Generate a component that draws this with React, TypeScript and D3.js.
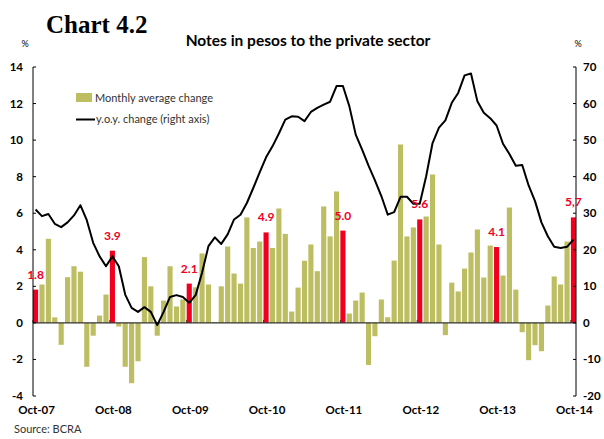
import React from "react";
import * as d3 from "d3";

const monthlyChange: number[] = [
  1.82, 2.1, 4.6, 0.3, -1.2, 2.5, 3.1, 2.8, -2.4, -0.7, 0.4, 1.55,
  3.95, -0.2, -2.4, -3.3, -2.1, 3.6, 2.0, -0.7, 1.22, 3.1, 0.9, 1.28,
  2.15, 1.95, 3.8, 2.1, 0.05, 2.0, 4.18, 2.7, 2.15, 5.77, 4.1, 4.45,
  4.95, 4.1, 6.26, 4.87, 0.62, 1.93, 3.4, 4.29, 2.83, 6.37, 4.73, 7.19,
  5.05, 0.51, 1.22, 1.66, -2.3, -0.73, 1.28, 0.31, 3.41, 9.76, 4.73, 5.22,
  5.66, 5.82, 8.12, 4.29, -0.67, 2.2, 1.72, 2.97, 3.85, 5.11, 2.48, 4.23,
  4.15, 2.59, 6.31, 1.82, -0.51, -2.04, -1.22, -1.55, 0.95, 2.54, 2.1, 4.45,
  5.77,
];

const yoyChange: number[] = [
  31, 29.2, 29.8, 27.1, 26.2, 27.5, 29.4, 32.2, 28.1, 21.9, 18.2, 15.5,
  18.2, 15.5, 7.75, 4.1, 3.0, 4.3, 3.0, -0.6, 3.0, 7.1, 7.6, 7.1,
  5.5, 7.6, 13.7, 21, 23.4, 21.6, 24.2, 28.3, 29.6, 32.8, 36.9, 41.2,
  45.3, 48.3, 51.8, 55.6, 56.5, 56.4, 55.2, 57.7, 58.8, 59.7, 60.5, 64.8,
  64.8, 59.3, 51.5, 47.4, 43, 39, 34.7, 29.6, 30.3, 34.5, 34.5, 32.6,
  32.6, 40.1, 49.2, 53.4, 55.4, 60.2, 62.9, 67.7, 68.2, 60.6, 57.5, 56,
  54, 49, 46.2, 43, 43.2, 37.6, 33.3, 27.5, 23.7, 20.8, 20.5, 20.8,
  22.8,
];

const octoberLabels: string[] = ["1.8", "3.9", "2.1", "4.9", "5.0", "5.6", "4.1", "5,7"];
const xTickLabels: string[] = ["Oct-07", "Oct-08", "Oct-09", "Oct-10", "Oct-11", "Oct-12", "Oct-13", "Oct-14"];
const leftTicks: number[] = [-4, -2, 0, 2, 4, 6, 8, 10, 12, 14];
const rightTicks: number[] = [-20, -10, 0, 10, 20, 30, 40, 50, 60, 70];

const months: Date[] = d3.timeMonth.range(new Date(2007, 9, 1), new Date(2014, 10, 1));
const fmt = d3.timeFormat("%b-%y");

const OLIVE = "#bdbd62";
const RED = "#f0001e";

export default function App() {
  const W = 604;
  const H = 439;
  const left = 33;
  const right = 576;
  const top = 67;
  const bottom = 396;

  const x = d3
    .scaleBand<string>()
    .domain(months.map((m) => fmt(m)))
    .range([left, right])
    .paddingInner(0.2)
    .paddingOuter(0);
  const yL = d3.scaleLinear().domain([-4, 14]).range([bottom, top]);
  const yR = d3.scaleLinear().domain([-20, 70]).range([bottom, top]);
  const bw = x.bandwidth();

  const line = d3
    .line<number>()
    .x((_, i) => (x(fmt(months[i])) as number) + bw / 2)
    .y((d) => yR(d));

  const isOct = (i: number) => months[i].getMonth() === 9;
  const octIdx = months.map((_, i) => i).filter(isOct);

  const tickFont = "Lato, 'DejaVu Sans', sans-serif";

  return (
    <svg
      width={W}
      height={H}
      style={{ position: "absolute", left: 0, top: 0, background: "#fff" }}
      fontFamily={tickFont}
    >
      <text x={46} y={33} fontFamily="'Liberation Serif', serif" fontWeight="bold" fontSize={25} fill="#000">
        Chart 4.2
      </text>
      <text x={308} y={46} textAnchor="middle" fontWeight="bold" fontSize={15.5} fill="#000">
        Notes in pesos to the private sector
      </text>
      <text x={25} y={47} textAnchor="middle" fontSize={9} fill="#000">%</text>
      <text x={578} y={47} textAnchor="middle" fontSize={9} fill="#000">%</text>

      {/* bars */}
      {monthlyChange.map((v, i) => {
        const xx = x(fmt(months[i])) as number;
        const y0 = yL(0);
        const y1 = yL(v);
        return (
          <rect
            key={i}
            x={xx}
            y={Math.min(y0, y1)}
            width={bw}
            height={Math.abs(y1 - y0)}
            fill={isOct(i) ? RED : OLIVE}
          />
        );
      })}

      {/* zero line */}
      <line x1={left} x2={right} y1={yL(0)} y2={yL(0)} stroke="#333" strokeWidth={1.3} />
      {octIdx.map((i) => {
        const xx = x(fmt(months[i])) as number;
        return <line key={i} x1={xx} x2={xx} y1={yL(0)} y2={yL(0) - 3} stroke="#333" strokeWidth={1} />;
      })}

      {/* axes */}
      <line x1={left} x2={left} y1={top} y2={bottom} stroke="#000" strokeWidth={1} />
      <line x1={right} x2={right} y1={top} y2={bottom} stroke="#000" strokeWidth={1} />
      {leftTicks.map((t) => (
        <g key={"l" + t}>
          <line x1={left} x2={left + 3} y1={yL(t)} y2={yL(t)} stroke="#000" />
          <text x={23} y={yL(t)} dy="0.35em" textAnchor="end" fontWeight="bold" fontSize={11.5} fill="#000">
            {t}
          </text>
        </g>
      ))}
      {rightTicks.map((t) => (
        <g key={"r" + t}>
          <line x1={right - 3} x2={right} y1={yR(t)} y2={yR(t)} stroke="#000" />
          <text x={583} y={yR(t)} dy="0.35em" textAnchor="start" fontWeight="bold" fontSize={11.5} fill="#000">
            {t}
          </text>
        </g>
      ))}

      {/* line */}
      <path d={line(yoyChange) || ""} fill="none" stroke="#000" strokeWidth={2} strokeLinejoin="round" />

      {/* red labels */}
      {octIdx.map((i, k) => {
        const xx = (x(fmt(months[i])) as number) + bw / 2;
        return (
          <text
            key={"lab" + i}
            x={xx}
            y={yL(monthlyChange[i]) - 11}
            textAnchor="middle"
            fontWeight="bold"
            fontSize={12}
            fill={RED}
          >
            {octoberLabels[k]}
          </text>
        );
      })}

      {/* x labels */}
      {octIdx.map((i, k) => (
        <text
          key={"x" + i}
          x={(x(fmt(months[i])) as number) + bw / 2 + 1}
          y={414}
          textAnchor="middle"
          fontWeight="bold"
          fontSize={11.5}
          fill="#000"
        >
          {xTickLabels[k]}
        </text>
      ))}

      {/* legend */}
      <rect x={76} y={93} width={16} height={9} fill={OLIVE} />
      <text x={95} y={102} fontSize={11} fill="#333">Monthly average change</text>
      <line x1={76} x2={95} y1={119.5} y2={119.5} stroke="#000" strokeWidth={2} />
      <text x={96} y={123} fontSize={11} fill="#333">y.o.y. change (right axis)</text>

      <text x={14} y={433} fontSize={11} fill="#333">Source: BCRA</text>
    </svg>
  );
}
